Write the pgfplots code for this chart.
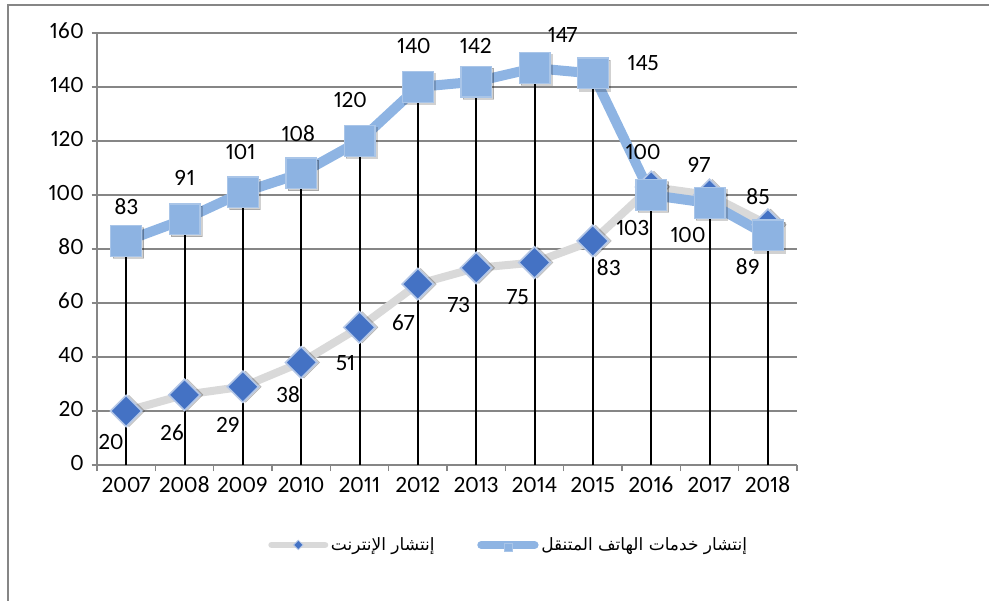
\documentclass[border=0pt]{standalone}
\usepackage{pgfplots}
\pgfplotsset{compat=1.18}
\usepackage{pgfplotstable}
\usepackage{fontspec}
\setmainfont[Numbers={Lining,Proportional}]{Carlito}
\newfontfamily\arabicfont[Script=Arabic]{DejaVu Sans}
\TeXXeTstate=1
\definecolor{mobline}{HTML}{8EB4E3}
\definecolor{mobmark}{HTML}{8DB3E2}
\definecolor{mobedge}{HTML}{A9C5E8}
\definecolor{netline}{HTML}{D9D9D9}
\definecolor{netmark}{HTML}{4472C4}
\definecolor{netedge}{HTML}{B4C7E7}
\definecolor{gridc}{HTML}{868686}

\pgfplotstableread{
year mob net
2007 83 20
2008 91 26
2009 101 29
2010 108 38
2011 120 51
2012 140 67
2013 142 73
2014 147 75
2015 145 83
2016 100 103
2017 97 100
2018 85 89
}\datatable

\begin{document}
\begin{tikzpicture}
\path[use as bounding box] (0,0) rectangle (741.75pt,450pt);
\draw[gridc, line width=1.5pt] (6pt,-2pt) -- (6pt,446.25pt) -- (745pt,446.25pt);
\begin{axis}[
  at={(72.75pt,101.25pt)}, anchor=south west,
  scale only axis, width=525pt, height=324pt,
  xmin=2006.5, xmax=2018.5, ymin=0, ymax=160,
  ytick={0,20,...,160},
  xtick={2007,...,2018},
  minor xtick={2006.5,2007.5,...,2018.5},
  axis x line*=bottom, axis y line*=left,
  axis line style={gridc, line width=1.2pt, -},
  ymajorgrids, grid style={gridc, line width=1.2pt},
  tick align=outside,
  tick style={gridc, line width=1.2pt},
  major tick length=4pt, minor tick length=4.5pt,
  major x tick style={draw=none},
  /pgf/number format/1000 sep={},
  /pgf/number format/assume math mode=true,
  typeset ticklabels with strut,
  tick label style={font=\fontsize{17.5}{20}\selectfont},
  yticklabel style={xshift=-2.5pt},
  xticklabel style={yshift=1pt},
  clip=false,
  legend columns=2,
  legend style={at={(0.5886,-0.185)}, anchor=center, draw=none, fill=none,
    font=\arabicfont\fontsize{12.75}{15}\selectfont,
    /tikz/every even column/.append style={column sep=30pt}},
  legend cell align=left,
  legend image code/.code={
    \draw[#1, line cap=round, mark repeat=2, mark phase=2] plot coordinates {(0pt,0pt) (20pt,0pt) (40pt,0pt)};
  },
]
% legend images
\addlegendimage{netline, line width=5pt, mark=square*, mark size=2.5pt, mark options={rotate=45, fill=netmark, draw=netedge, line width=0.6pt}}
\addlegendentry{\beginR إنتشار الإنترنت\endR}
\addlegendimage{mobline, line width=6pt, mark=square*, mark size=3pt, mark options={fill=mobmark, draw=mobedge, line width=0.6pt, yshift=-2pt}}
\addlegendentry{\beginR إنتشار خدمات الهاتف المتنقل\endR}

% internet
\addplot[netline, line width=6pt, line join=round, mark=none, forget plot] table[x=year,y=net]{\datatable};
\addplot[only marks, mark=square*, mark size=8.3pt, forget plot,
  mark options={rotate=45, fill=black, draw=none, opacity=0.18, xshift=1.5pt, yshift=-1.5pt}] table[x=year,y=net]{\datatable};
\addplot[only marks, mark=square*, mark size=8.3pt, forget plot,
  mark options={rotate=45, fill=netmark, draw=netedge, line width=1.2pt}] table[x=year,y=net]{\datatable};
% mobile
\addplot[mobline, line width=7.5pt, line join=round, mark=none, forget plot] table[x=year,y=mob]{\datatable};
\addplot[only marks, mark=square*, mark size=11.5pt, forget plot,
  mark options={fill=black, draw=none, opacity=0.18, xshift=1.5pt, yshift=-1.5pt}] table[x=year,y=mob]{\datatable};
\addplot[only marks, mark=square*, mark size=11.5pt, forget plot,
  mark options={fill=mobmark, draw=mobedge, line width=1pt}] table[x=year,y=mob]{\datatable};
% drop lines
\addplot[ycomb, black, line width=1.5pt, mark=none, forget plot] table[x=year,y=mob]{\datatable};

% data labels (mobile)
\begin{scope}[every node/.style={font=\fontsize{17.5}{20}\selectfont, inner sep=0pt}]
\node at (axis cs:2007.00,95.6) {83};
\node at (axis cs:2008.00,106.3) {91};
\node at (axis cs:2008.96,115.9) {101};
\node at (axis cs:2009.95,122.6) {108};
\node at (axis cs:2010.84,135.2) {120};
\node at (axis cs:2011.93,155.2) {140};
\node at (axis cs:2012.99,155.2) {142};
\node at (axis cs:2014.48,159.3) {147};
\node at (axis cs:2015.86,148.9) {145};
\node at (axis cs:2015.86,115.9) {100};
\node at (axis cs:2016.82,111.1) {97};
\node at (axis cs:2017.83,99.3) {85};
% data labels (internet)
\node at (axis cs:2006.74,8.5) {20};
\node at (axis cs:2007.79,11.9) {26};
\node at (axis cs:2008.75,14.8) {29};
\node at (axis cs:2009.78,25.9) {38};
\node at (axis cs:2010.76,37.8) {51};
\node at (axis cs:2011.75,52.6) {67};
\node at (axis cs:2012.70,59.3) {73};
\node at (axis cs:2013.71,62.2) {75};
\node at (axis cs:2015.27,73.0) {83};
\node at (axis cs:2015.68,87.8) {103};
\node at (axis cs:2016.63,85.2) {100};
\node at (axis cs:2017.66,73.3) {89};
\end{scope}
\end{axis}
\end{tikzpicture}
\end{document}
